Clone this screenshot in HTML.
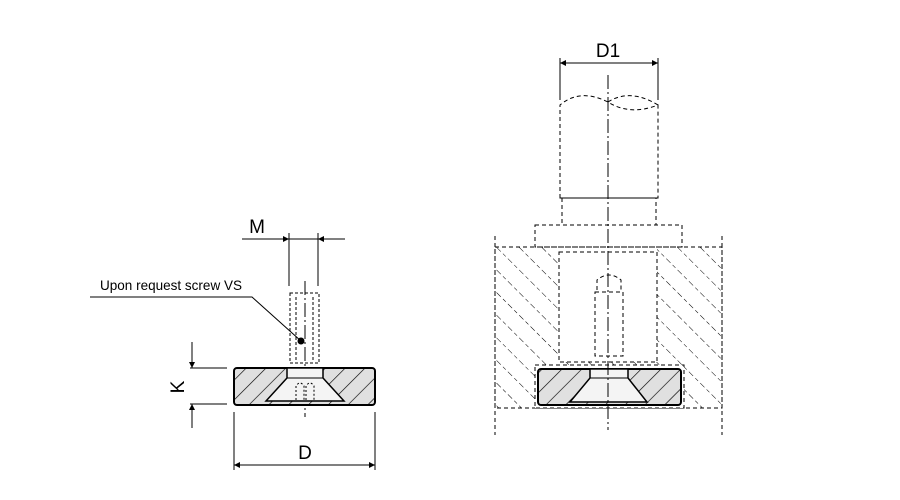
<!DOCTYPE html>
<html><head><meta charset="utf-8"><style>html,body{margin:0;padding:0;background:#fff}svg{display:block}</style></head>
<body>
<svg width="900" height="500" viewBox="0 0 900 500" xmlns="http://www.w3.org/2000/svg" font-family="Liberation Sans, sans-serif">
<defs>
<pattern id="h1" patternUnits="userSpaceOnUse" width="14" height="14" patternTransform="rotate(45)">
<rect width="14" height="14" fill="#e0e0e0"/><line x1="0" y1="0" x2="0" y2="14" stroke="#000" stroke-width="1.3"/></pattern>
<pattern id="h2" patternUnits="userSpaceOnUse" width="16" height="16" patternTransform="rotate(-45)">
<line x1="0" y1="0" x2="0" y2="16" stroke="#000" stroke-width="1" stroke-dasharray="4,3"/></pattern>
<marker id="a" viewBox="0 0 10 10" refX="10" refY="5" markerWidth="10" markerHeight="6" orient="auto-start-reverse" markerUnits="userSpaceOnUse"><path d="M0,0L10,5L0,10z" fill="#000"/></marker>
</defs>
<g fill="none" stroke="#000" stroke-width="1">
<!-- LEFT -->
<line x1="242" y1="239" x2="289" y2="239" marker-end="url(#a)"/>
<line x1="345" y1="239" x2="318" y2="239" marker-end="url(#a)"/>
<line x1="289" y1="239" x2="318" y2="239"/>
<line x1="289" y1="233" x2="289" y2="286"/><line x1="318" y1="233" x2="318" y2="286"/>
<rect x="290" y="293" width="29" height="70" stroke-dasharray="3,2"/>
<line x1="296" y1="297" x2="296" y2="362" stroke-dasharray="3,2"/><line x1="313" y1="297" x2="313" y2="362" stroke-dasharray="3,2"/>
<line x1="305" y1="281" x2="305" y2="417" stroke-dasharray="14,3,2,3"/>
<polyline points="90,297 252,297 301,341"/>
<circle cx="301" cy="341" r="3" fill="#000"/>
<rect x="234" y="368" width="141" height="37" rx="3" fill="url(#h1)" stroke-width="2"/>
<path d="M287,368 L287,378 L266,401 L344,401 L323,378 L323,368 Z" fill="#f4f4f4" stroke-width="1.5"/>
<line x1="287" y1="378" x2="323" y2="378"/>
<path d="M296,400 L296,386 Q300,380 304,386 L304,400 M306,400 L306,386 Q310,380 314,386 L314,400" stroke-dasharray="2,2"/>
<line x1="190" y1="368" x2="227" y2="368"/><line x1="190" y1="404" x2="227" y2="404"/>
<line x1="192" y1="342" x2="192" y2="368" marker-end="url(#a)"/>
<line x1="192" y1="428" x2="192" y2="404" marker-end="url(#a)"/>
<line x1="234" y1="412" x2="234" y2="470"/><line x1="375" y1="412" x2="375" y2="470"/>
<line x1="234" y1="465" x2="375" y2="465" marker-start="url(#a)" marker-end="url(#a)"/>
<!-- RIGHT -->
<line x1="560" y1="63" x2="658" y2="63" marker-start="url(#a)" marker-end="url(#a)"/>
<line x1="560" y1="58" x2="560" y2="100"/><line x1="658" y1="58" x2="658" y2="100"/>
<g stroke-dasharray="4,3">
<path d="M560,198 L560,105 Q580,88 608,102 Q630,116 658,105 L658,198 Z"/>
<path d="M608,102 Q630,88 658,105"/>
<rect x="562" y="198" width="94" height="27"/>
<rect x="535" y="225" width="147" height="22"/>
<line x1="495" y1="236" x2="495" y2="435"/><line x1="722" y1="236" x2="722" y2="435"/>
</g>
<path d="M495,247 H559 V362 H657 V247 H722 V408 H495 Z" fill="url(#h2)" stroke="none"/>
<rect x="495" y="247" width="227" height="161" stroke-dasharray="4,3"/>
<g stroke-dasharray="4,3">
<rect x="559" y="252" width="98" height="110" fill="#fff"/>
<rect x="595" y="292" width="28" height="64"/>
<path d="M597,290 L597,280 Q609,270 621,280 L621,290"/>
<rect x="535" y="365" width="149" height="43" fill="#fff"/>
</g>
<rect x="538" y="369" width="143" height="36" rx="3" fill="url(#h1)" stroke-width="2"/>
<path d="M590,369 L590,378 L570,402 L647,402 L628,378 L628,369 Z" fill="#f4f4f4" stroke-width="1.5"/>
<line x1="590" y1="378" x2="628" y2="378"/>
<line x1="608" y1="75" x2="608" y2="430" stroke-dasharray="14,3,2,3"/>
</g>
<g font-size="19" fill="#000">
<text x="257" y="233" text-anchor="middle">M</text>
<text x="305" y="459" text-anchor="middle">D</text>
<text x="608" y="57" text-anchor="middle">D1</text>
<text transform="translate(184,387) rotate(-90)" text-anchor="middle">K</text>
</g>
<text x="100" y="290" font-size="14" textLength="142" lengthAdjust="spacingAndGlyphs">Upon request screw VS</text>
</svg>
</body></html>
